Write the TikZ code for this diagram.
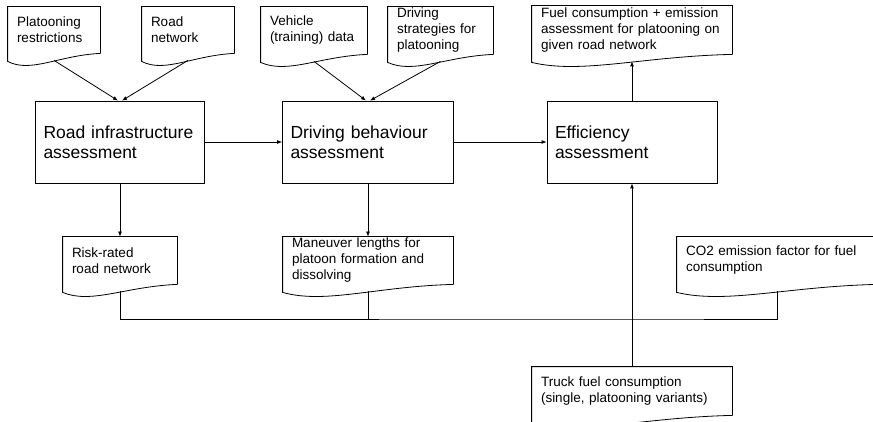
\documentclass[tikz,border=0pt]{standalone}
\usepackage{fontspec}
\setmainfont{Liberation Sans}
\usepackage{tikz}
\usetikzlibrary{positioning,arrows.meta,calc}

\begin{document}
\begin{tikzpicture}[
    x=1pt, y=-1pt,
    font=\fontsize{13.5}{16}\selectfont,
    line width=0.8pt,
    box/.style={draw, align=left, inner xsep=8pt, inner ysep=0pt,
                minimum height=82pt, font=\fontsize{17.5}{20.5}\selectfont},
    doc/.style={inner xsep=9pt, inner ysep=0pt, align=left},
    arr/.style={-{Latex[length=5pt,width=4pt]}}
  ]
    \useasboundingbox (0,0) rectangle (873,422);
    % assessment steps
    \node[box, text width=153pt] (ria) at (120,142) {Road infrastructure\\assessment};
    \node[box, text width=155pt] (dba) at (368,142) {Driving behaviour\\assessment};
    \node[box, text width=154pt] (eff) at (632,142) {Efficiency\\assessment};
    % inputs and outputs
    \node[doc, text width=74pt,  minimum height=46pt] (pr) at (54,30)    {Platooning\\restrictions};
    \node[doc, text width=74pt,  minimum height=46pt] (rn) at (188,30)   {Road\\network};
    \node[doc, text width=88pt,  minimum height=47pt] (vd) at (314,30.5) {Vehicle\\(training) data};
    \node[doc, text width=87pt,  minimum height=47pt] (ds) at (440.5,30.5) {Driving\\strategies for\\platooning};
    \node[doc, text width=182pt, minimum height=48pt] (fe) at (632,30)   {Fuel consumption + emission\\assessment for platooning on\\given road network};
    \node[doc, text width=96pt,  minimum height=47pt] (rr) at (120,260.5) {Risk-rated\\road network};
    \node[doc, text width=152pt, minimum height=47pt] (ml) at (368,260.5) {Maneuver lengths for\\platoon formation and\\dissolving};
    \node[doc, text width=182pt, minimum height=47pt] (co) at (777,260.5) {CO2 emission factor for fuel\\consumption};
    \node[doc, text width=182pt, minimum height=48pt] (tf) at (632,391)  {Truck fuel consumption\\(single, platooning variants)};
    % document outlines with wavy bottom
    \foreach \n in {pr,rn,vd,ds,fe,rr,ml,co,tf} {
      \draw (\n.south east) -- (\n.north east) -- (\n.north west) -- ($(\n.south west)+(0,8)$)
        .. controls ($(\n.south west)!.25!(\n.south east)+(0,20)$)
               and ($(\n.south west)!.55!(\n.south east)+(0,2)$) .. (\n.south east);
      \coordinate (\n-w) at ($(\n.south)+(0,7)$);
    }
    \coordinate (bus) at (632,319);
    \draw[arr] (pr-w) -- ([xshift=-2pt]ria.north);
    \draw[arr] (rn-w) -- ([xshift=2pt]ria.north);
    \draw[arr] (vd-w) -- ([xshift=-2pt]dba.north);
    \draw[arr] (ds-w) -- ([xshift=2pt]dba.north);
    \draw[arr] (ria) -- (dba);
    \draw[arr] (dba) -- (eff);
    \draw[arr] (eff) -- (fe-w);
    \draw[arr] (ria) -- (rr);
    \draw[arr] (dba) -- (ml);
    \draw (rr-w) |- (bus) -| (co-w);
    \draw (ml-w) -- (ml-w |- bus);
    \draw[arr] (tf) -- (eff);
\end{tikzpicture}
\end{document}
